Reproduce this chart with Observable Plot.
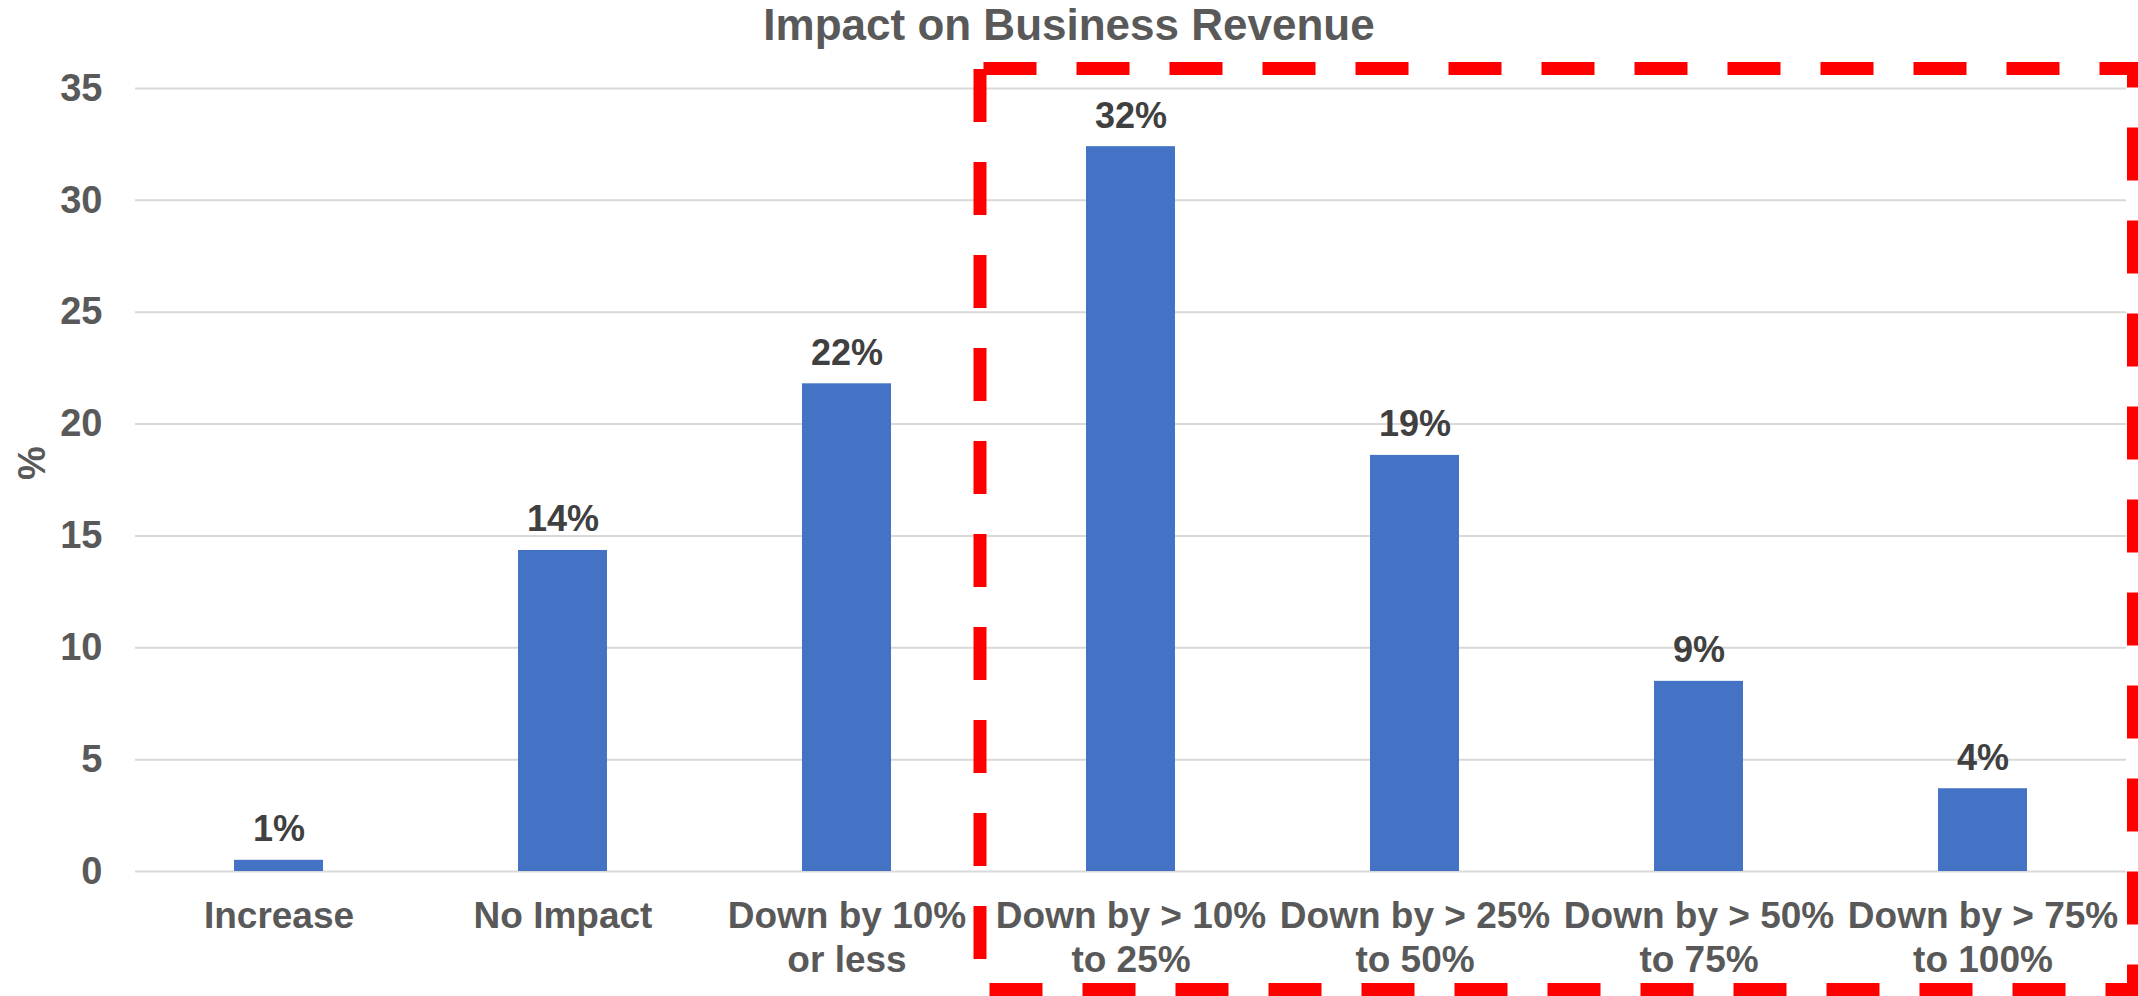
<!DOCTYPE html>
<html><head><meta charset="utf-8">
<script src="https://cdn.jsdelivr.net/npm/d3@7"></script>
<script src="https://cdn.jsdelivr.net/npm/@observablehq/plot@0.6"></script>
<style>
body{margin:0;background:#fff;}
#title{height:56px;line-height:54px;text-align:center;font:bold 44px "Liberation Sans",Arial,sans-serif;color:#595959;white-space:nowrap}
#chart svg{display:block}
</style></head><body>
<div id="title">Impact on Business Revenue</div>
<div id="chart"></div>
<script>
const categories = ["Increase", "No Impact", "Down by 10%\nor less", "Down by > 10%\nto 25%", "Down by > 25%\nto 50%", "Down by > 50%\nto 75%", "Down by > 75%\nto 100%"];
const values = [0.5, 14.35, 21.8, 32.4, 18.6, 8.5, 3.7];
const valueLabels = ["1%", "14%", "22%", "32%", "19%", "9%", "4%"];
const yTicks = [0, 5, 10, 15, 20, 25, 30, 35];
const yLabel = "%";
const highlighted = categories.slice(3);

(function () {
const data = categories.map((c, i) => ({cat: c, value: values[i], label: valueLabels[i]}));
const font = '"Liberation Sans", Arial, sans-serif';

const plot = Plot.plot({
  width: 2138,
  height: 940,
  marginLeft: 135,
  marginRight: 12,
  marginTop: 32,
  marginBottom: 125,
  style: {fontFamily: font, background: "white", overflow: "hidden"},
  x: {domain: categories, paddingInner: 0.687, paddingOuter: 0.3435, label: null},
  y: {domain: [0, 35], label: null},
  marks: [
    Plot.gridY(yTicks, {stroke: "#d9d9d9", strokeOpacity: 1, strokeWidth: 2}),
    Plot.barY(data, {x: "cat", y: "value", fill: "#4472C4"}),
    Plot.text(data, {x: "cat", y: "value", text: "label", lineAnchor: "bottom", dy: -19, fontSize: 36, fontWeight: "bold", fill: "#404040"}),
    Plot.axisY(yTicks, {tickSize: 0, tickPadding: 33, fontSize: 38, fontWeight: "bold", fill: "#595959", label: null}),
    Plot.axisX({tickSize: 0, tickPadding: 25, fontSize: 37, fontWeight: "bold", fill: "#595959", lineHeight: 1.19, label: null}),
    Plot.text([yLabel], {frameAnchor: "left", dx: -103, rotate: -90, fontSize: 38, fontWeight: "bold", fill: "#595959"})
  ]
});

const xs = plot.scale("x");
const ys = plot.scale("y");
const rLeft = xs.apply(highlighted[0]) - (xs.step - xs.bandwidth) / 2 - 8.5;
const rRight = xs.range[1] + 7.5;
const rTop = ys.apply(35) - 19.5;
const rBottom = 940 - 6.5;
d3.select(plot).append("rect")
  .attr("x", rLeft).attr("y", rTop)
  .attr("width", rRight - rLeft).attr("height", rBottom - rTop)
  .attr("fill", "none").attr("stroke", "#ff0000").attr("stroke-width", 13)
  .attr("stroke-dasharray", "53 40").attr("stroke-dashoffset", -3.5);

document.getElementById("chart").appendChild(plot);
})();
</script>
</body></html>
